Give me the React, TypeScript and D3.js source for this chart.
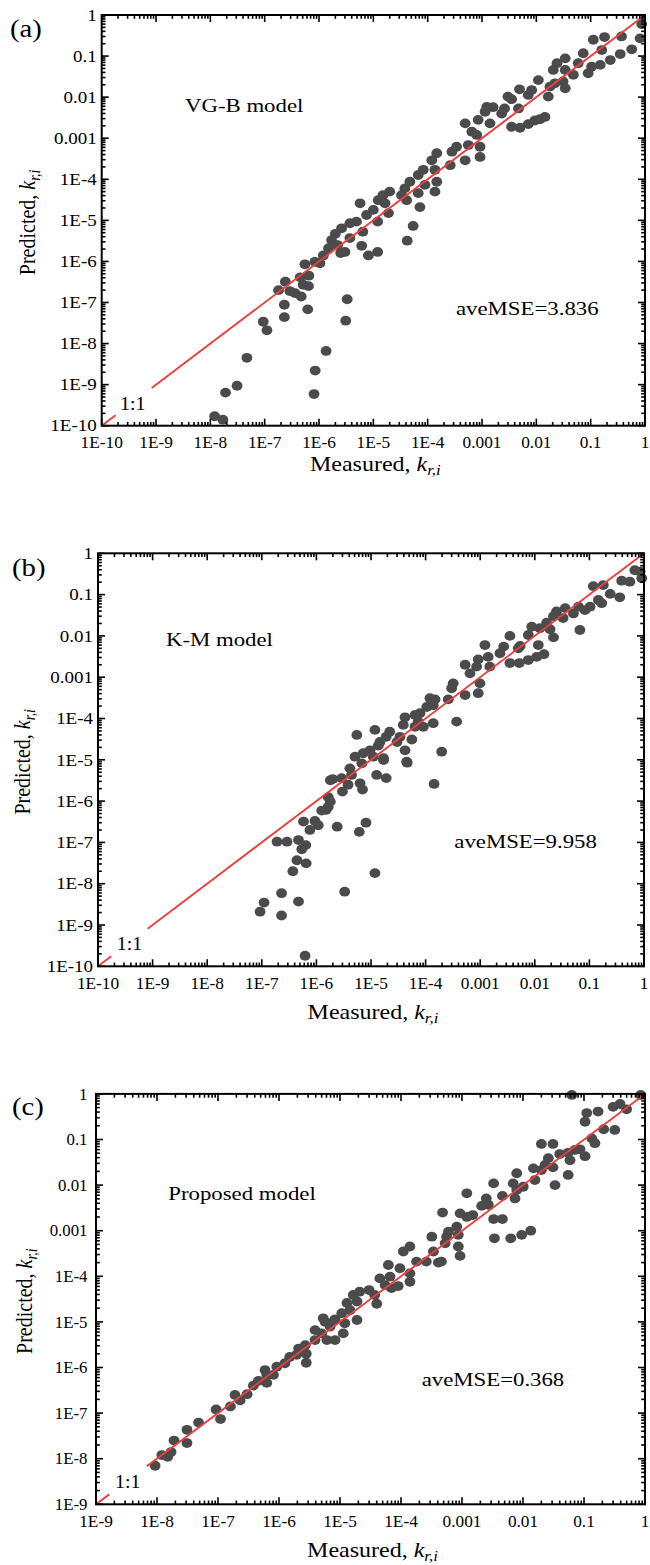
import React from 'react';
import * as d3 from 'd3';

// ---------- data ----------
const decadeValues10 = [1e-10, 1e-9, 1e-8, 1e-7, 1e-6, 1e-5, 1e-4, 1e-3, 1e-2, 1e-1, 1];
const decadeLabels10 = ['1E-10', '1E-9', '1E-8', '1E-7', '1E-6', '1E-5', '1E-4', '0.001', '0.01', '0.1', '1'];
const decadeValues9 = [1e-9, 1e-8, 1e-7, 1e-6, 1e-5, 1e-4, 1e-3, 1e-2, 1e-1, 1];
const decadeLabels9 = ['1E-9', '1E-8', '1E-7', '1E-6', '1E-5', '1E-4', '0.001', '0.01', '0.1', '1'];

// [measured, predicted]
const vgbData: [number, number][] = [
  [1.2e-8, 1.7e-10], [1.7e-8, 1.4e-10], [1.9e-8, 6.4e-10], [3.1e-8, 9.4e-10], [4.7e-8, 4.5e-9],
  [9.4e-8, 3.4e-8], [1.1e-7, 2.1e-8], [1.8e-7, 2.0e-7], [2.3e-7, 8.8e-8], [2.3e-7, 4.4e-8],
  [2.9e-7, 1.9e-7], [3.6e-7, 1.7e-7], [4.7e-7, 1.4e-7], [4.5e-7, 4.1e-7], [5.1e-7, 2.7e-7],
  [6.4e-7, 2.5e-7], [6.2e-7, 6.8e-8], [5.5e-7, 8.5e-7], [6.5e-7, 4.5e-7], [8.4e-7, 9.8e-7],
  [1.04e-6, 9.0e-7], [1.2e-6, 1.4e-6], [1.5e-6, 2.1e-6], [8.1e-7, 5.9e-10], [8.5e-7, 2.2e-9],
  [1.35e-6, 6.6e-9], [3.3e-6, 1.2e-7], [3.1e-6, 3.6e-8], [1.2e-5, 9.3e-6], [5.4e-5, 7.3e-6],
  [4.2e-5, 3.2e-6], [6.1e-6, 2.4e-6], [8.1e-6, 1.4e-6], [1.2e-5, 1.7e-6], [2.5e-6, 1.6e-6],
  [3.0e-6, 1.7e-6], [2.0e-6, 4.7e-6], [6.4e-6, 5.3e-6], [2.4e-7, 3.2e-7],
  [0.87, 0.6], [0.81, 0.27], [0.57, 0.146], [0.35, 0.112], [0.37, 0.3], [0.18, 0.29],
  [0.112, 0.25], [0.16, 0.14], [0.23, 0.08], [0.15, 0.061], [0.104, 0.055], [0.09, 0.038],
  [0.073, 0.117], [0.059, 0.067], [0.048, 0.035], [0.034, 0.088], [0.024, 0.067], [0.0205, 0.046],
  [0.034, 0.046], [0.031, 0.024], [0.034, 0.0164], [0.022, 0.0217], [0.0166, 0.0103], [0.0178, 0.018],
  [0.0109, 0.026], [0.0082, 0.0149], [0.0071, 0.0113], [0.0049, 0.0155], [0.003, 0.0103],
  [0.0035, 0.0089], [0.0047, 0.0053], [0.0026, 0.0053], [0.0023, 0.004], [0.0016, 0.0057],
  [0.00122, 0.0058], [0.00114, 0.0044], [8.5e-4, 0.0028], [0.0014, 0.0023], [4.9e-4, 0.0023],
  [6.5e-4, 0.00144], [8.0e-4, 0.0012],
  [0.0035, 0.0019], [0.005, 0.0018], [0.0071, 0.0022], [0.0094, 0.0027], [0.0117, 0.0029], [0.0144, 0.0033],
  [9.2e-4, 6.2e-4], [9.2e-4, 3.5e-4], [5.6e-4, 6.8e-4], [4.9e-4, 2.9e-4], [3.4e-4, 6.2e-4],
  [2.8e-4, 4.7e-4], [2.6e-4, 2.2e-4], [1.47e-4, 4.3e-4], [1.19e-4, 2.9e-4], [1.36e-4, 1.7e-4],
  [1.47e-4, 8.7e-5], [1.36e-4, 5.0e-5], [8.3e-5, 1.7e-4], [6.7e-5, 1.27e-4], [8.9e-5, 7.3e-5],
  [4.7e-5, 8.7e-5], [3.8e-5, 6.0e-5], [3.3e-5, 4.1e-5], [4.1e-5, 3.1e-5], [6.7e-5, 4.6e-5],
  [7.2e-5, 2.1e-5], [2.0e-5, 5.0e-5], [1.5e-5, 4.1e-5], [1.23e-5, 3.1e-5], [1.64e-5, 2.6e-5],
  [1.9e-5, 1.5e-5], [1.0e-5, 1.8e-5], [7.5e-6, 1.35e-5], [5.7e-6, 2.6e-5], [4.9e-6, 9.3e-6],
  [3.7e-6, 8.5e-6], [2.6e-6, 6.4e-6], [1.7e-6, 3.3e-6], [3.7e-6, 3.7e-6], [2.2e-6, 2.5e-6],
];

const kmData: [number, number][] = [
  [9.3e-8, 2.1e-9], [1.1e-7, 3.5e-9], [2.3e-7, 5.9e-9], [2.3e-7, 1.7e-9], [4.7e-7, 3.7e-9],
  [6.2e-7, 1.8e-10], [1.9e-7, 1.04e-7], [2.9e-7, 1.04e-7], [3.7e-7, 2.0e-8], [4.4e-7, 3.7e-8],
  [4.7e-7, 1.14e-7], [5.4e-7, 6.8e-8], [6.4e-7, 8.6e-8], [6.5e-7, 3.1e-8], [5.8e-7, 3.2e-7],
  [7.6e-7, 2.0e-7], [9.4e-7, 3.3e-7], [1.08e-6, 2.6e-7], [1.25e-6, 5.9e-7], [1.65e-6, 1.24e-6],
  [1.8e-6, 3.2e-6], [1.65e-6, 7.3e-7], [2.4e-6, 2.4e-7], [6.1e-6, 1.8e-7], [8.1e-6, 3.0e-7],
  [1.18e-5, 1.8e-8], [3.3e-6, 6.4e-9], [1.43e-4, 2.6e-6], [4.6e-5, 8.5e-6], [1.9e-5, 3.6e-6],
  [1.27e-5, 4.3e-6], [7.0e-6, 1.9e-6], [6.3e-6, 2.7e-6], [2.0e-6, 3.4e-6], [2.9e-6, 3.6e-6],
  [4.4e-6, 4.3e-6], [3.8e-6, 2.5e-6], [3.0e-6, 1.7e-6], [1.8e-6, 9.7e-7], [1.5e-6, 6.1e-7],
  [1.7e-5, 9.9e-6],
  [0.85, 0.36], [0.91, 0.25], [0.68, 0.39], [0.55, 0.205], [0.39, 0.217], [0.24, 0.104],
  [0.36, 0.086], [0.18, 0.17], [0.118, 0.16], [0.168, 0.062], [0.146, 0.074], [0.103, 0.051],
  [0.083, 0.042], [0.063, 0.051], [0.051, 0.035], [0.067, 0.0139], [0.036, 0.047], [0.025, 0.039],
  [0.022, 0.03], [0.033, 0.027], [0.0165, 0.021], [0.019, 0.0145], [0.022, 0.0092], [0.0124, 0.0153],
  [0.0088, 0.0167], [0.0076, 0.0105], [0.0116, 0.006], [0.0054, 0.0057], [0.0035, 0.01],
  [0.0027, 0.0055], [0.0023, 0.0038], [0.005, 0.005],
  [0.0035, 0.0022], [0.0052, 0.0022], [0.0076, 0.0026], [0.0108, 0.0031], [0.0147, 0.0036],
  [0.00122, 0.006], [0.0014, 0.0031], [9.2e-4, 0.0027], [0.0015, 0.0018], [8.6e-4, 0.0018],
  [5.3e-4, 0.002], [6.5e-4, 0.00124], [9.9e-4, 7.1e-4], [9.2e-4, 4.1e-4], [3.2e-4, 7.1e-4],
  [3.0e-4, 5.4e-4], [5.3e-4, 3.7e-4], [2.6e-4, 2.9e-4], [1.49e-4, 2.9e-4], [1.2e-4, 3.1e-4],
  [1.38e-4, 2.1e-4], [1.05e-4, 1.9e-4], [3.7e-4, 8.4e-5], [7.9e-5, 1.34e-4], [6.4e-5, 1.22e-4],
  [4.2e-5, 1.07e-4], [3.9e-5, 7.0e-5], [7.3e-5, 8.4e-5], [6.4e-5, 6.3e-5], [1.38e-4, 7.7e-5],
  [9.1e-5, 6.3e-5], [1.97e-4, 1.57e-5], [5.6e-5, 3.1e-5], [3.4e-5, 3.6e-5], [3.0e-5, 2.7e-5],
  [2.2e-5, 4.8e-5], [1.9e-5, 3.6e-5], [1.18e-5, 5.3e-5], [5.5e-6, 4.0e-5], [1.46e-5, 2.7e-5],
  [1.36e-5, 2.2e-5], [9.6e-6, 1.7e-5], [4.2e-5, 1.7e-5], [4.5e-5, 9.0e-6], [1.7e-5, 1.09e-5],
  [1.1e-5, 1.19e-5], [7.2e-6, 1.44e-5], [5.1e-6, 1.19e-5], [6.8e-6, 8.2e-6], [4.1e-6, 6.2e-6],
];

const proposedData: [number, number][] = [
  [9.3e-9, 7.0e-9], [1.2e-8, 1.2e-8], [1.5e-8, 1.1e-8], [1.7e-8, 1.4e-8], [1.9e-8, 2.5e-8],
  [3.1e-8, 2.2e-8], [3.1e-8, 4.3e-8], [4.8e-8, 6.2e-8], [9.3e-8, 1.2e-7], [1.1e-7, 7.4e-8],
  [1.6e-7, 1.4e-7], [1.9e-7, 2.5e-7], [2.3e-7, 1.9e-7], [3.0e-7, 2.6e-7], [3.8e-7, 4.0e-7],
  [4.6e-7, 5.1e-7], [6.3e-7, 4.6e-7], [5.9e-7, 8.8e-7], [6.3e-7, 6.9e-7], [8.1e-7, 6.9e-7],
  [9.2e-7, 1.04e-6], [1.25e-6, 1.24e-6], [1.5e-6, 1.7e-6], [1.95e-6, 1.9e-6], [2.1e-6, 2.6e-6],
  [2.8e-6, 1.27e-6], [2.8e-6, 2.0e-6], [2.7e-6, 3.1e-6], [3.9e-6, 4.0e-6], [3.9e-6, 6.6e-6],
  [5.0e-6, 5.6e-6], [6.1e-6, 4.0e-6], [5.7e-6, 1.0e-5], [8.3e-6, 4.0e-6], [1.13e-5, 5.6e-6],
  [6.9e-6, 9.3e-6], [1.2e-5, 9.3e-6], [1.9e-5, 1.1e-5],
  [0.85, 0.95], [0.063, 0.95], [0.5, 0.46], [0.39, 0.6], [0.3, 0.52], [0.17, 0.41],
  [0.111, 0.38], [0.104, 0.245], [0.21, 0.168], [0.32, 0.162], [0.134, 0.106], [0.151, 0.083],
  [0.104, 0.043], [0.086, 0.061], [0.071, 0.059], [0.055, 0.051], [0.059, 0.035], [0.04, 0.048],
  [0.055, 0.0167], [0.031, 0.08], [0.02, 0.08], [0.026, 0.039], [0.031, 0.0245], [0.023, 0.0276],
  [0.0335, 0.01], [0.02, 0.0214], [0.0148, 0.0233], [0.0157, 0.0129], [0.0101, 0.0092],
  [0.0079, 0.0182], [0.0069, 0.0109], [0.0074, 0.0051], [0.0079, 0.0078], [0.0046, 0.0058],
  [0.0033, 0.0109], [0.0025, 0.0051], [0.0021, 0.0035], [0.0027, 0.0037], [0.0012, 0.0066],
  [0.0015, 0.0022], [0.0012, 0.002], [9.3e-4, 0.0024], [0.0033, 0.0018], [0.0046, 0.0018],
  [0.0034, 6.8e-4], [0.0063, 6.8e-4], [0.0095, 8.1e-4], [0.0134, 0.001],
  [4.8e-4, 0.0025], [8.7e-4, 8.1e-4], [8.2e-4, 0.00122], [6.0e-4, 9.5e-4], [5.6e-4, 7.4e-4],
  [8.7e-4, 4.5e-4], [9.3e-4, 2.8e-4], [5.3e-4, 5.3e-4], [3.2e-4, 7.4e-4], [3.4e-4, 3.5e-4],
  [4.6e-4, 2.1e-4], [4.1e-4, 2.0e-4], [2.6e-4, 2.1e-4], [1.8e-4, 2.1e-4], [1.4e-4, 4.5e-4],
  [1.09e-4, 3.5e-4], [1.4e-4, 1.16e-4], [1.4e-4, 7.6e-5], [9.6e-5, 1.5e-4], [6.2e-5, 1.77e-4],
  [6.6e-5, 9.8e-5], [4.5e-5, 9.0e-5], [5.5e-5, 6.4e-5], [9.0e-5, 6.1e-5], [7.0e-5, 5.5e-5],
  [3.0e-5, 5.0e-5], [3.7e-5, 3.9e-5], [4.0e-5, 2.5e-5], [2.1e-5, 4.6e-5], [1.65e-5, 3.9e-5],
  [1.9e-5, 2.8e-5], [1.3e-5, 2.6e-5], [1.46e-5, 1.8e-5], [1.07e-5, 1.55e-5], [8.3e-6, 1.14e-5],
  [5.3e-6, 1.2e-5], [6.9e-6, 7.9e-6],
];

// 1:1 reference line, drawn with a gap around the "1:1" label
const lineSegsA: [number, number][] = [[1e-10, 1.8e-10], [8.3e-10, 1]];
const lineSegsB: [number, number][] = [[1e-10, 1.75e-10], [8.1e-10, 1]];
const lineSegsC: [number, number][] = [[1e-9, 1.65e-9], [6.8e-9, 1]];

// ---------- layout ----------
const FONT = "'Liberation Serif', 'Times New Roman', Times, serif";
const POINT_COLOR = '#4b4b4b';
const LINE_COLOR = '#ec3f3f';

type Panel = {
  label: string; model: string; mse: string;
  data: [number, number][]; ticks: number[]; tickLabels: string[]; segs: [number, number][];
  l: number; r: number; t: number; b: number;
  lab: [number, number]; mod: [number, number]; mseP: [number, number]; one: [number, number];
  xTitleY: number; yTitleX: number; yGap: number; ySx: number;
};

const panels: Panel[] = [
  {
    label: '(a)', model: 'VG-B model', mse: 'aveMSE=3.836', data: vgbData,
    ticks: decadeValues10, tickLabels: decadeLabels10, segs: lineSegsA,
    l: 101.7, r: 645, t: 15, b: 425.7,
    lab: [10, 37], mod: [185, 111.7], mseP: [456, 315], one: [120, 410],
    xTitleY: 471, yTitleX: 35, yGap: 5, ySx: 1.15,
  },
  {
    label: '(b)', model: 'K-M model', mse: 'aveMSE=9.958', data: kmData,
    ticks: decadeValues10, tickLabels: decadeLabels10, segs: lineSegsB,
    l: 98, r: 644, t: 553.3, b: 966.3,
    lab: [12, 576], mod: [166, 646], mseP: [454.3, 848.3], one: [116.7, 950],
    xTitleY: 1019, yTitleX: 30, yGap: 5, ySx: 1.15,
  },
  {
    label: '(c)', model: 'Proposed model', mse: 'aveMSE=0.368', data: proposedData,
    ticks: decadeValues9, tickLabels: decadeLabels9, segs: lineSegsC,
    l: 96, r: 645, t: 1093.9, b: 1504.3,
    lab: [12, 1115], mod: [168.3, 1200], mseP: [421.7, 1386], one: [115, 1488.3],
    xTitleY: 1557, yTitleX: 32, yGap: 8.5, ySx: 1.02,
  },
];

function T(props: { x: number; y: number; size: number; sx?: number; anchor?: string; rot?: number; dy?: string; children: React.ReactNode }) {
  const { x, y, size, sx = 1.2, anchor = 'start', rot = 0, dy, children } = props;
  return (
    <text
      transform={`translate(${x},${y}) scale(${sx},1)${rot ? ` rotate(${rot})` : ''}`}
      fontSize={size}
      fontFamily={FONT}
      textAnchor={anchor as any}
      dy={dy}
      fill="#000"
    >
      {children}
    </text>
  );
}

function KLabel({ word }: { word: string }) {
  return (
    <>
      {word}
      <tspan fontStyle="italic">k</tspan>
      <tspan fontStyle="italic" fontSize={14} dy={4}>r,i</tspan>
    </>
  );
}

function PanelView({ p }: { p: Panel }) {
  const domain: [number, number] = [p.ticks[0], p.ticks[p.ticks.length - 1]];
  const x = d3.scaleLog().domain(domain).range([p.l, p.r]);
  const y = d3.scaleLog().domain(domain).range([p.b, p.t]);
  const minor: number[] = [];
  p.ticks.slice(0, -1).forEach((d) => {
    for (let k = 2; k <= 9; k++) minor.push(d * k);
  });
  const MAJ = 7, MIN = 3.8;
  const tickLines: JSX.Element[] = [];
  const addTicks = (vals: number[], len: number, key: string) => {
    vals.forEach((v, i) => {
      const xv = x(v), yv = y(v);
      tickLines.push(<line key={`${key}b${i}`} x1={xv} x2={xv} y1={p.b} y2={p.b - len} />);
      tickLines.push(<line key={`${key}t${i}`} x1={xv} x2={xv} y1={p.t} y2={p.t + len} />);
      tickLines.push(<line key={`${key}l${i}`} x1={p.l} x2={p.l + len} y1={yv} y2={yv} />);
      tickLines.push(<line key={`${key}r${i}`} x1={p.r} x2={p.r - len} y1={yv} y2={yv} />);
    });
  };
  addTicks(p.ticks, MAJ, 'M');
  addTicks(minor, MIN, 'm');
  const cx = (p.l + p.r) / 2;
  const cy = (p.t + p.b) / 2;
  return (
    <g>
      {p.data.map((d, i) => (
        <ellipse key={i} cx={x(d[0])} cy={y(d[1])} rx={5.4} ry={4.9} fill={POINT_COLOR} />
      ))}
      {p.segs.map((s, i) => (
        <line key={i} x1={x(s[0])} y1={y(s[0])} x2={x(s[1])} y2={y(s[1])} stroke={LINE_COLOR} strokeWidth={1.9} />
      ))}
      <g stroke="#000" strokeWidth={1.6}>{tickLines}</g>
      <rect x={p.l} y={p.t} width={p.r - p.l} height={p.b - p.t} fill="none" stroke="#000" strokeWidth={2} />
      {p.ticks.map((v, i) => (
        <T key={`xl${i}`} x={x(v)} y={p.b + 22.5} size={16} sx={1.08} anchor="middle">{p.tickLabels[i]}</T>
      ))}
      {p.ticks.map((v, i) => (
        <T key={`yl${i}`} x={p.l - p.yGap} y={y(v)} size={16.5} sx={p.ySx} anchor="end" dy="0.35em">{p.tickLabels[i]}</T>
      ))}
      <T x={p.lab[0]} y={p.lab[1]} size={25} sx={1.15}>{p.label}</T>
      <T x={p.mod[0]} y={p.mod[1]} size={19} sx={1.2}>{p.model}</T>
      <T x={p.mseP[0]} y={p.mseP[1]} size={19} sx={1.2}>{p.mse}</T>
      <T x={p.one[0]} y={p.one[1]} size={19} sx={1.05}>1:1</T>
      <T x={cx + 2} y={p.xTitleY} size={20} sx={1.2} anchor="middle"><KLabel word="Measured, " /></T>
      <T x={p.yTitleX} y={cy + 2} size={20} sx={1.2} anchor="middle" rot={-90}><KLabel word="Predicted, " /></T>
    </g>
  );
}

export default function App() {
  return (
    <svg
      width={650}
      height={1565}
      viewBox="0 0 650 1565"
      style={{ position: 'absolute', left: 0, top: 0, background: '#fff', display: 'block' }}
    >
      <rect x={0} y={0} width={650} height={1565} fill="#fff" />
      {panels.map((p, i) => (
        <PanelView key={i} p={p} />
      ))}
    </svg>
  );
}
